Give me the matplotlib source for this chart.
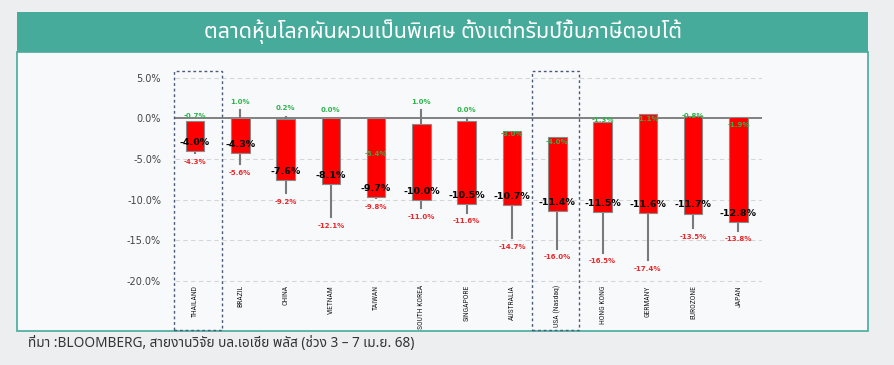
import matplotlib
matplotlib.use("Agg")
import matplotlib.pyplot as plt
from matplotlib import font_manager
from matplotlib.patches import Rectangle
import matplotlib.transforms as mtransforms

countries = ["THAILAND", "BRAZIL", "CHINA", "VIETNAM", "TAIWAN", "SOUTH KOREA",
             "SINGAPORE", "AUSTRALIA", "USA (Nasdaq)", "HONG KONG", "GERMANY",
             "EUROZONE", "JAPAN"]
opens = [-0.4, 0.0, -0.1, 0.0, 0.0, -0.7, -0.4, -1.6, -2.3, -0.5, 0.5, 0.3, 0.1]
closes = [-4.0, -4.3, -7.6, -8.1, -9.7, -10.0, -10.5, -10.7, -11.4, -11.5, -11.6, -11.7, -12.8]
highs = [-0.7, 1.0, 0.2, 0.0, -5.4, 1.0, 0.0, -3.0, -4.0, -1.3, -1.1, -0.8, -1.9]
lows = [-4.3, -5.6, -9.2, -12.1, -9.8, -11.0, -11.6, -14.7, -16.0, -16.5, -17.4, -13.5, -13.8]
yticks = [5, 0, -5, -10, -15, -20]
boxed = [0, 8]

title = "ตลาดหุ้นโลกผันผวนเป็นพิเศษ ตั้งแต่ทรัมป์ขึ้นภาษีตอบโต้"
source = "ที่มา :BLOOMBERG, สายงานวิจัย บล.เอเซีย พลัส (ช่วง 3 – 7 เม.ย. 68)"

# pick a font that has Thai glyphs, if any is installed
avail = {f.name for f in font_manager.fontManager.ttflist}
thai = [f for f in ["Noto Sans Thai", "Noto Sans Thai Looped", "Noto Serif Thai",
                    "Loma", "Garuda", "Waree", "Norasi", "Kinnari", "Umpush",
                    "Sawasdee", "Tlwg Typo", "FreeSans"] if f in avail]
thai_family = thai + ["DejaVu Sans"]
narrow = [f for f in ["Liberation Sans Narrow", "Roboto Condensed", "Open Sans Condensed",
                      "Noto Sans Display"] if f in avail] + ["DejaVu Sans"]

TEAL = "#47ab9b"
W, H = 894, 365
fig = plt.figure(figsize=(W / 100, H / 100), dpi=100, facecolor="#eceef0")

# white panel + teal header
fig.patches.append(Rectangle((17 / W, 1 - 331 / H), 851 / W, 279 / H, transform=fig.transFigure,
                             facecolor="#f7f9fb", edgecolor=TEAL, lw=1.2, zorder=-2))
fig.patches.append(Rectangle((17 / W, 1 - 52 / H), 851 / W, 40 / H, transform=fig.transFigure,
                             facecolor=TEAL, edgecolor="none", zorder=-1))
fig.text(443 / W, 1 - 32 / H, title, color="white", fontsize=15.5, ha="center", va="center",
         family=thai_family)
fig.text(28 / W, 1 - 344 / H, source, color="#333333", fontsize=9.8, ha="left", va="center",
         family=thai_family)

ax = fig.add_axes([175 / W, 1 - 330 / H, 587 / W, 259 / H])
ax.set_zorder(2)
ax.set_facecolor("none")
ax.set_xlim(-0.44, 12.52)
ax.set_ylim(-26, 5.8)
for s in ax.spines.values():
    s.set_visible(False)
ax.set_xticks([])
ax.set_yticks(yticks)
ax.set_yticklabels([f"{v:.1f}%" for v in yticks], fontsize=7, color="#444444")
ax.tick_params(axis="y", length=0, pad=10)
for v in yticks:
    if v != 0:
        ax.axhline(v, color="#d4d6d8", lw=0.8, ls=(0, (4, 3)), zorder=0)
ax.axhline(0, color="#777777", lw=1.3, zorder=1)

x = list(range(len(countries)))
for i in x:
    o, c, h, l = opens[i], closes[i], highs[i], lows[i]
    ax.plot([i, i], [l, c], color="#7a7a7a", lw=1.5, zorder=2)
    if h > o:
        ax.plot([i, i], [o, h], color="#7a7a7a", lw=1.5, zorder=2)
ax.bar(x, [o - c for o, c in zip(opens, closes)], bottom=closes, width=0.41,
       color="#ff0000", edgecolor="#8a8a8a", lw=0.8, zorder=3)

for i in x:
    ax.annotate(f"{highs[i]:.1f}%", (i, highs[i]), xytext=(0, 6), textcoords="offset points",
                ha="center", va="center", fontsize=5, fontweight="bold", color="#2fb24c", zorder=5)
    ax.annotate(f"{closes[i]:.1f}%", (i, closes[i]), xytext=(0, 6.2), textcoords="offset points",
                ha="center", va="center", fontsize=6.8, fontweight="bold", color="black", zorder=5)
    ax.annotate(f"{lows[i]:.1f}%", (i, lows[i]), xytext=(0, -6.3), textcoords="offset points",
                ha="center", va="center", fontsize=5, fontweight="bold", color="#e8282b", zorder=5)
    ax.text(i, -20.5, countries[i], rotation=90, ha="center", va="top", fontsize=5.5,
            color="#222222", family=narrow, fontstretch="condensed")

# dashed highlight boxes (Thailand, USA)
trans = mtransforms.blended_transform_factory(ax.transData, ax.transAxes)
box_edges = {0: (-0.46, 0.6), 8: (7.44, 8.49)}
for i in boxed:
    x0, x1 = box_edges[i]
    ax.add_patch(Rectangle((x0, 0), x1 - x0, 1, transform=trans, fill=False,
                           edgecolor="#4a5a78", lw=1.0, ls=(0, (2, 2)), clip_on=False, zorder=4))

fig.savefig("out.png", dpi=100, facecolor=fig.get_facecolor())
